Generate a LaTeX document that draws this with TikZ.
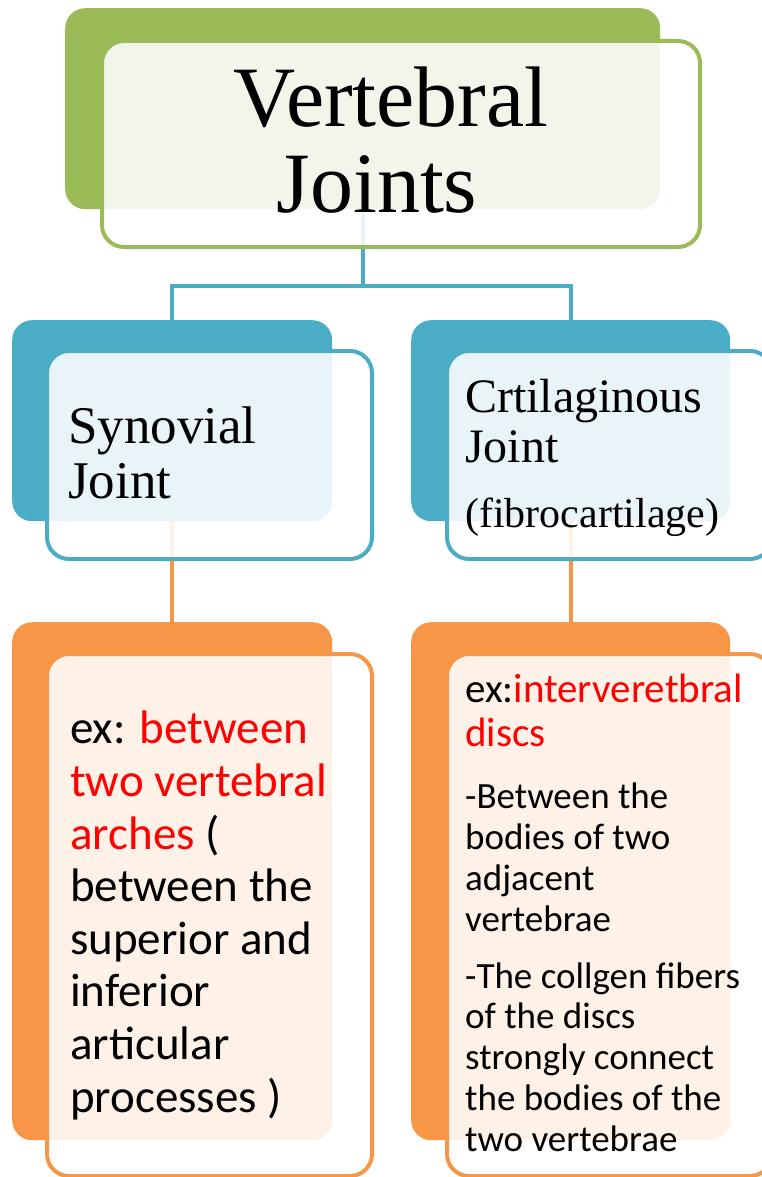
\documentclass[tikz,border=0pt]{standalone}
\usepackage{xcolor}
\usepackage{fontspec}
\setmainfont{Liberation Serif}
\newfontfamily\bodyfont{Carlito}
\definecolor{VJGreen}{HTML}{9BBB59}
\definecolor{VJBlue}{HTML}{4BACC6}
\definecolor{VJOrange}{HTML}{F79646}
\definecolor{VJRed}{HTML}{FF0000}
\tikzset{
  backbox/.style={rectangle,rounded corners=20pt,inner sep=0pt,anchor=north west},
  frontbox/.style={rectangle,rounded corners=22pt,inner sep=0pt,anchor=north west,
    fill=white,fill opacity=0.88,draw opacity=1,line width=4pt},
  label/.style={inner sep=0pt,align=left,text opacity=1,anchor=base west},
}

\begin{document}
\begin{tikzpicture}[x=1pt,y=-1pt]
\path[use as bounding box] (0,0) rectangle (762,1177);
% back boxes
\node[backbox,fill=VJGreen,minimum width=595pt,minimum height=201pt] (vjback) at (65,8) {};
\node[backbox,fill=VJBlue,minimum width=320pt,minimum height=201pt] (synback) at (12,320) {};
\node[backbox,fill=VJBlue,minimum width=319pt,minimum height=201pt] (cartback) at (411,320) {};
\node[backbox,fill=VJOrange,minimum width=320pt,minimum height=518pt] (synexback) at (12,622) {};
\node[backbox,fill=VJOrange,minimum width=319pt,minimum height=518pt] (cartexback) at (411,622) {};
% connectors
\draw[VJBlue,line width=4pt] (vjback.south) -- ++(0,77) coordinate (fork) -| (synback.north);
\draw[VJBlue,line width=4pt] (fork) -| (cartback.north);
\draw[VJOrange,line width=4pt] (synback.south) -- (synexback.north);
\draw[VJOrange,line width=4pt] (cartback.south) -- (cartexback.north);
% front boxes
\node[frontbox,draw=VJGreen,minimum width=598pt,minimum height=206pt] (vjfront) at (100,39) {};
\node[frontbox,draw=VJBlue,minimum width=325pt,minimum height=208pt] (synfront) at (45,349) {};
\node[frontbox,draw=VJBlue,minimum width=325pt,minimum height=208pt] (cartfront) at (445,349) {};
\node[frontbox,draw=VJOrange,minimum width=325pt,minimum height=522pt] (synexfront) at (45,652) {};
\node[frontbox,draw=VJOrange,minimum width=325pt,minimum height=522pt] (cartexfront) at (445,652) {};
% texts (anchored at the baseline of the last line)
\node[label,align=center,anchor=base,font=\fontsize{86}{86}\selectfont] (vjtext) at (391,212)
  {Vertebral\\Joints\hspace*{28pt}};
\node[label,font=\fontsize{53}{55}\selectfont] (syntext) at (68,498) {Synovial\\Joint};
\node[label,font=\fontsize{48}{50}\selectfont] (carttext) at (465,462) {Crtilaginous\\Joint};
\node[label,font=\fontsize{42}{44}\selectfont] (fibrotext) at (465,527) {(fibrocartilage)};
\node[label,font=\bodyfont\fontsize{47}{52.6}\selectfont] (synextext) at (70,1112)
  {ex: \textcolor{VJRed}{between}\\
   \textcolor{VJRed}{two vertebral}\\
   \textcolor{VJRed}{arches} (\\
   between the\\
   superior and\\
   inferior\\
   articular\\
   processes )};
\node[label,font=\bodyfont\fontsize{41}{44}\selectfont] (cartextext) at (465,746)
  {ex:\textcolor{VJRed}{interveretbral}\\
   \textcolor{VJRed}{discs}};
\node[label,font=\bodyfont\fontsize{37}{41}\selectfont] (bodiestext) at (465,931)
  {-Between the\\
   bodies of two\\
   adjacent\\
   vertebrae};
\node[label,font=\bodyfont\fontsize{37}{40.75}\selectfont] (fiberstext) at (465,1151)
  {-The collgen fibers\\
   of the discs\\
   strongly connect\\
   the bodies of the\\
   two vertebrae};
\end{tikzpicture}
\end{document}
